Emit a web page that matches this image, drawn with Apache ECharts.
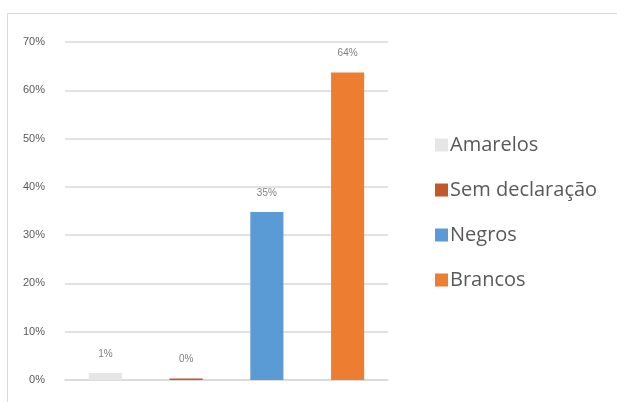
<!DOCTYPE html>
<html>
<head>
<meta charset="utf-8">
<script src="https://cdn.jsdelivr.net/npm/echarts@6/dist/echarts.min.js"></script>
<style>html,body{margin:0;padding:0;background:#fff}#c{width:617px;height:402px}</style>
</head>
<body>
<div id="c"></div>
<script>
const categories = ['Amarelos', 'Sem declaração', 'Negros', 'Brancos'];
const seriesNames = ['Amarelos', 'Sem declaração', 'Negros', 'Brancos'];
const values = [1.45, 0.3, 34.8, 63.7];
const colors = ['#e7e6e6', '#c0582b', '#5b9bd5', '#ed7d31'];
const yTicks = [0, 10, 20, 30, 40, 50, 60, 70];

const chart = echarts.init(document.getElementById('c'));
const series = seriesNames.map((name, i) => ({
  name: name,
  type: 'bar',
  stack: 'all',
  barWidth: '41%',
  itemStyle: { color: colors[i] },
  data: categories.map((c, j) => j === i ? values[i] : null),
  label: {
    show: true,
    position: 'top',
    distance: 14,
    color: '#7f7f7f',
    fontSize: 10,
    fontFamily: 'Liberation Sans, Arial, sans-serif',
    formatter: p => Math.round(p.value) + '%'
  }
}));

chart.setOption({
  animation: false,
  graphic: [{
    type: 'rect',
    x: 0, y: 0,
    shape: { x: 7.5, y: 13.5, width: 800, height: 600 },
    style: { fill: 'none', stroke: '#d9d9d9', lineWidth: 1 },
    silent: true
  }],
  grid: { left: 65, right: 229, top: 42, bottom: 22 },
  xAxis: {
    type: 'category',
    data: categories,
    axisLine: { show: true, lineStyle: { color: '#d9d9d9', width: 1.5 } },
    axisTick: { show: false },
    axisLabel: { show: false }
  },
  yAxis: {
    type: 'value',
    min: yTicks[0],
    max: yTicks[yTicks.length - 1],
    interval: 10,
    axisLine: { show: false },
    axisTick: { show: false },
    splitLine: { lineStyle: { color: '#d9d9d9', width: 1.5 } },
    axisLabel: {
      margin: 20,
      color: '#595959',
      fontSize: 11,
      fontFamily: 'Liberation Sans, Arial, sans-serif',
      formatter: v => v + '%'
    }
  },
  legend: {
    orient: 'vertical',
    left: 430,
    top: 130,
    itemWidth: 13,
    itemHeight: 13,
    itemGap: 25,
    icon: 'rect',
    textStyle: { color: '#595959', fontSize: 20, fontFamily: 'Open Sans, Noto Sans, sans-serif', padding: [0, 0, 0, -3] },
    data: seriesNames
  },
  series: series
});
</script>
</body>
</html>
